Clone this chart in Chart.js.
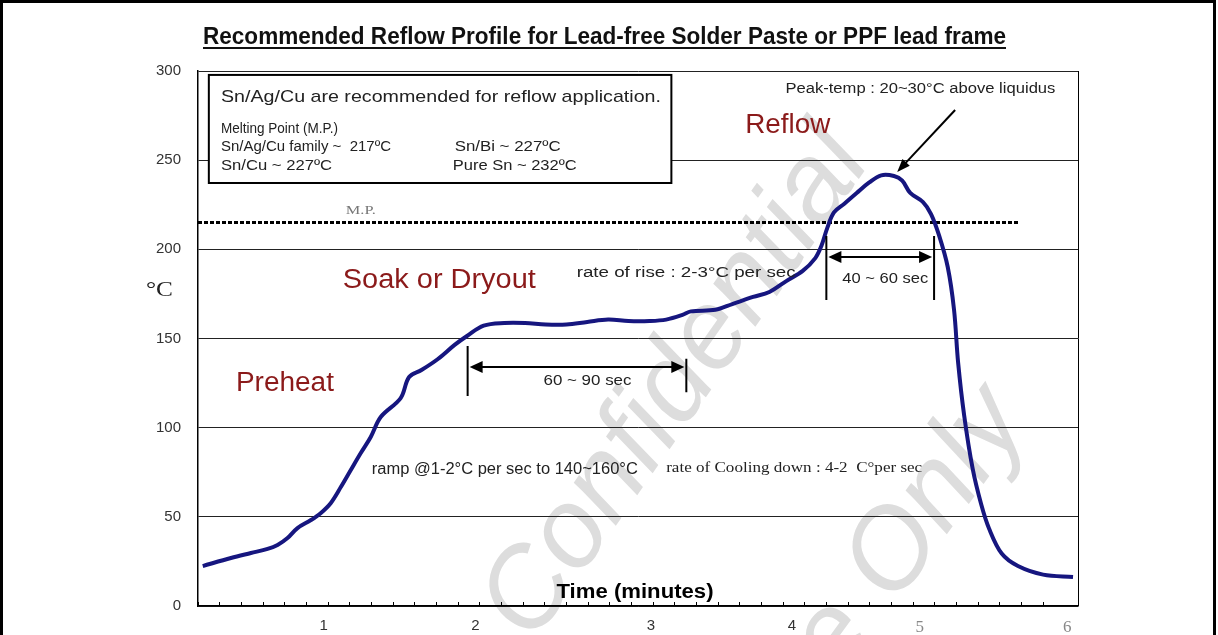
<!DOCTYPE html>
<html>
<head>
<meta charset="utf-8">
<script src="https://cdn.jsdelivr.net/npm/chart.js@4.4.0/dist/chart.umd.min.js"></script>
<style>
  html, body { margin: 0; padding: 0; background: #fff; }
  canvas { display: block; }
</style>
</head>
<body>
<canvas id="reflow" width="1218" height="635"></canvas>
<script>
// time axis is in minor-tick steps (the original axis labels are not evenly spaced)
const timeIdx = [0.22, 1.52, 2.44, 3.21, 3.67, 4.13, 4.59, 5.21, 5.67, 6.13, 6.59, 7.05, 7.51, 7.97, 8.43,
  9.35, 9.74, 10.31, 11.07, 11.84, 12.41, 13.18, 14.13, 15.09, 16.04, 17.0, 17.96, 18.92, 19.86, 20.83,
  21.6, 22.35, 22.74, 23.87, 24.65, 25.61, 26.36, 27.14, 27.9, 28.48, 28.76, 29.03, 29.34, 29.82, 30.39,
  30.97, 31.52, 32.11, 32.49, 32.86, 33.45, 33.82, 34.19, 34.59, 34.88, 35.07, 35.35, 35.74, 36.13,
  36.5, 37.08, 37.83, 38.99, 40.37];
const tempC = [22.4, 26.9, 29.7, 32.0, 34.2, 38.1, 43.7, 48.2, 52.2, 57.8, 66.7, 76.3, 85.8, 94.8, 106.0,
  116.6, 128.4, 132.3, 138.5, 146.4, 151.4, 157.2, 158.7, 158.7, 157.9, 157.9, 159.3, 160.6, 159.8, 159.8,
  160.6, 163.2, 165.2, 166.1, 169.3, 173.3, 176.1, 182.2, 187.9, 195.1, 201.9, 211.9, 220.7, 225.6, 231.6,
  237.5, 241.5, 241.1, 238.5, 231.6, 226.5, 219.8, 207.8, 190.1, 166.2, 136.4, 106.7, 77.0, 57.2,
  43.3, 29.4, 22.4, 17.6, 16.3];

const xTickPos = [5.8, 12.8, 20.9, 27.4, 33.3, 40.1];
const xTickLabels = ['1', '2', '3', '4', '5', '6'];
const xMax = 40.6;
const yTicks = [0, 50, 100, 150, 200, 250, 300];

const meltPoint = 215;
const meltSpan = [0, 37.9];

const SANS = '"Liberation Sans", Arial, sans-serif';
const SERIF = '"Liberation Serif", "Times New Roman", serif';

// notes placed in data units (x = minor tick steps, y = degrees C)
const notes = [
  { text: 'Peak-temp : 20~30\u00b0C above liquidus', x: 27.1, y: 289.9, font: '14px ' + SANS, color: '#222', w: 270 },
  { text: 'Reflow', x: 25.25, y: 269.2, font: '27px ' + SANS, color: '#8b1a1a', w: 85 },
  { text: 'Soak or Dryout', x: 6.68, y: 182.3, font: '27px ' + SANS, color: '#8b1a1a', w: 193 },
  { text: 'Preheat', x: 1.75, y: 124.5, font: '27px ' + SANS, color: '#8b1a1a', w: 98 },
  { text: 'rate of rise : 2-3\u00b0C per sec', x: 17.47, y: 186.8, font: '14px ' + SANS, color: '#222', w: 219 },
  { text: '40 ~ 60 sec', x: 29.72, y: 183.4, font: '15px ' + SANS, color: '#222', w: 86 },
  { text: '60 ~ 90 sec', x: 15.94, y: 126.2, font: '15px ' + SANS, color: '#222', w: 88 },
  { text: 'ramp @1-2\u00b0C per sec to 140~160\u00b0C', x: 8.02, y: 76.3, font: '16px ' + SANS, color: '#222', w: 266 },
  { text: 'rate of Cooling down : 4-2  C\u00b0per sec', x: 21.6, y: 77.4, font: '15px ' + SERIF, color: '#222', w: 256 },
  { text: 'M.P.', x: 6.82, y: 221.5, font: '12px ' + SERIF, color: '#777', w: 30 },
  { text: '\u00b0C', x: -2.4, y: 177.2, font: '22px ' + SERIF, color: '#222', w: 27 },
  { text: 'Time (minutes)', x: 16.54, y: 7.85, font: 'bold 20px ' + SANS, color: '#000', w: 157 }
];

const infoBox = { x1: 0.5, x2: 21.84, y1: 297.8, y2: 237.2 };
const infoLines = [
  { text: 'Sn/Ag/Cu are recommended for reflow application.', x: 1.06, y: 285.4, font: '17px ' + SANS, w: 440 },
  { text: 'Melting Point (M.P.)', x: 1.06, y: 267.5, font: '14px ' + SANS, w: 117 },
  { text: 'Sn/Ag/Cu family ~  217\u00baC', x: 1.06, y: 257.4, font: '14px ' + SANS, w: 170 },
  { text: 'Sn/Bi ~ 227\u00baC', x: 11.84, y: 257.4, font: '14px ' + SANS, w: 106 },
  { text: 'Sn/Cu ~ 227\u00baC', x: 1.06, y: 246.7, font: '14px ' + SANS, w: 111 },
  { text: 'Pure Sn ~ 232\u00baC', x: 11.75, y: 246.7, font: '14px ' + SANS, w: 124 }
];

const spans = [
  { x1: 12.44, x2: 22.53, y: 134.0, bar1: [145.8, 117.8], bar2: [138.6, 119.9] },
  { x1: 28.99, x2: 33.96, y: 195.7, bar1: [207.5, 171.6], bar2: [207.5, 171.6] }
];
const peakArrow = { from: [34.93, 278.1], to: [32.26, 243.4] };

function fitText(ctx, t, x, y, font, w, color) {
  ctx.save();
  ctx.font = font;
  ctx.fillStyle = color || '#222';
  ctx.textBaseline = 'middle';
  ctx.textAlign = 'left';
  const m = ctx.measureText(t).width;
  const s = w ? w / m : 1;
  ctx.translate(x, y);
  ctx.scale(s, 1);
  ctx.fillText(t, 0, 0);
  ctx.restore();
}

function arrowHead(ctx, x, y, ang, len, half) {
  ctx.save();
  ctx.translate(x, y);
  ctx.rotate(ang);
  ctx.beginPath();
  ctx.moveTo(0, 0);
  ctx.lineTo(-len, -half);
  ctx.lineTo(-len, half);
  ctx.closePath();
  ctx.fill();
  ctx.restore();
}

const decor = {
  id: 'decor',
  beforeDraw(chart) {
    const ctx = chart.ctx;
    ctx.save();
    ctx.fillStyle = '#fff';
    ctx.fillRect(0, 0, chart.width, chart.height);
    // watermark
    ctx.fillStyle = '#dddddd';
    ctx.font = 'italic 112px ' + SANS;
    ctx.textAlign = 'right';
    ctx.textBaseline = 'alphabetic';
    ctx.save();
    ctx.translate(872, 160);
    ctx.rotate(-55 * Math.PI / 180);
    ctx.fillText('Research Confidential', 0, 0);
    ctx.restore();
    ctx.save();
    ctx.translate(1030, 420);
    ctx.rotate(-54 * Math.PI / 180);
    ctx.fillText('For Reference Only', 0, 0);
    ctx.restore();
    ctx.restore();
  },
  afterDatasetsDraw(chart) {
    const ctx = chart.ctx;
    const X = v => chart.scales.x.getPixelForValue(v);
    const Y = v => chart.scales.y.getPixelForValue(v);
    const a = chart.chartArea;

    // plot frame (right side)
    ctx.save();
    ctx.strokeStyle = '#000';
    ctx.lineWidth = 1;
    ctx.beginPath();
    ctx.moveTo(a.right + 0.5, a.top);
    ctx.lineTo(a.right + 0.5, a.bottom);
    ctx.stroke();

    // info box
    const bx = X(infoBox.x1), by = Y(infoBox.y1);
    const bw = X(infoBox.x2) - bx, bh = Y(infoBox.y2) - by;
    ctx.fillStyle = '#fff';
    ctx.fillRect(bx, by, bw, bh);
    ctx.lineWidth = 2;
    ctx.strokeStyle = '#000';
    ctx.strokeRect(bx, by, bw, bh);
    infoLines.forEach(l => fitText(ctx, l.text, X(l.x), Y(l.y), l.font, l.w, '#222'));

    notes.forEach(n => fitText(ctx, n.text, X(n.x), Y(n.y), n.font, n.w, n.color));

    // dimension markers
    ctx.fillStyle = '#000';
    ctx.strokeStyle = '#000';
    spans.forEach(s => {
      ctx.lineWidth = 2;
      ctx.beginPath();
      ctx.moveTo(X(s.x1), Y(s.bar1[0]));
      ctx.lineTo(X(s.x1), Y(s.bar1[1]));
      ctx.moveTo(X(s.x2), Y(s.bar2[0]));
      ctx.lineTo(X(s.x2), Y(s.bar2[1]));
      ctx.stroke();
      const yy = Y(s.y);
      const l = X(s.x1) + 2, r = X(s.x2) - 2;
      ctx.lineWidth = 2;
      ctx.beginPath();
      ctx.moveTo(l + 8, yy);
      ctx.lineTo(r - 8, yy);
      ctx.stroke();
      arrowHead(ctx, l, yy, Math.PI, 13, 6);
      arrowHead(ctx, r, yy, 0, 13, 6);
    });

    // peak arrow
    const fx = X(peakArrow.from[0]), fy = Y(peakArrow.from[1]);
    const tx = X(peakArrow.to[0]), ty = Y(peakArrow.to[1]);
    const ang = Math.atan2(ty - fy, tx - fx);
    ctx.lineWidth = 2;
    ctx.beginPath();
    ctx.moveTo(fx, fy);
    ctx.lineTo(tx - 10 * Math.cos(ang), ty - 10 * Math.sin(ang));
    ctx.stroke();
    arrowHead(ctx, tx, ty, ang, 13, 5);
    ctx.restore();
  },
  afterDraw(chart) {
    const ctx = chart.ctx;
    ctx.save();
    // title, underlined
    const title = 'Recommended Reflow Profile for Lead-free Solder Paste or PPF lead frame';
    ctx.font = 'bold 24px "Liberation Sans Narrow", ' + SANS;
    ctx.fillStyle = '#111';
    ctx.textBaseline = 'alphabetic';
    const m = ctx.measureText(title).width;
    const tw = 803, tl = 203;
    ctx.save();
    ctx.translate(tl, 44);
    ctx.scale(tw / m, 1);
    ctx.fillText(title, 0, 0);
    ctx.restore();
    ctx.fillRect(tl, 47, tw, 2);
    // outer frame
    ctx.fillStyle = '#000';
    ctx.fillRect(0, 0, 3, chart.height);
    ctx.fillRect(0, 0, 1216, 3);
    ctx.fillRect(1213, 0, 3, chart.height);
    ctx.restore();
  }
};

const curve = timeIdx.map((x, i) => ({ x: x, y: tempC[i] }));
const mpLine = meltSpan.map(x => ({ x: x, y: meltPoint }));

new Chart(document.getElementById('reflow'), {
  type: 'line',
  data: {
    datasets: [{
      label: 'Reflow profile',
      data: curve,
      borderColor: '#16167f',
      borderWidth: 4,
      pointRadius: 0,
      tension: 0.35,
      fill: false
    }, {
      label: 'M.P.',
      data: mpLine,
      borderColor: '#000',
      borderWidth: 3,
      borderDash: [4, 2],
      pointRadius: 0,
      fill: false
    }]
  },
  options: {
    responsive: false,
    animation: false,
    devicePixelRatio: 1,
    layout: { padding: { left: 0, right: 140, top: 71, bottom: 0 } },
    plugins: {
      legend: { display: false },
      tooltip: { enabled: false },
      title: { display: false }
    },
    scales: {
      x: {
        type: 'linear',
        position: 'bottom',
        weight: 0,
        min: 0,
        max: xMax,
        ticks: { display: false, stepSize: 1 },
        afterBuildTicks: s => { s.ticks = s.ticks.filter(t => Number.isInteger(t.value)); },
        afterFit: s => { s.height = 0; },
        grid: { drawOnChartArea: false, drawTicks: true, tickLength: -4, color: '#000', lineWidth: 1 },
        border: { color: '#000', width: 1.5 }
      },
      xl: {
        type: 'linear',
        position: 'bottom',
        weight: 1,
        min: 0,
        max: xMax,
        afterBuildTicks: s => { s.ticks = xTickPos.map(v => ({ value: v })); },
        afterFit: s => { s.height = 29; },
        ticks: {
          autoSkip: false,
          maxRotation: 0,
          minRotation: 0,
          padding: 3,
          callback: (v, i) => xTickLabels[i],
          color: ctx => ctx.index >= 4 ? '#888' : '#333',
          font: ctx => ctx.index >= 4 ? { family: SERIF, size: 17 } : { family: SANS, size: 15 }
        },
        grid: { display: false },
        border: { display: false }
      },
      y: {
        min: 0,
        max: 300,
        afterBuildTicks: s => { s.ticks = yTicks.map(v => ({ value: v })); },
        afterFit: s => { s.width = 198; },
        ticks: { padding: 17, color: '#333', font: { family: SANS, size: 15 } },
        grid: { color: '#222', lineWidth: 1, drawTicks: false },
        border: { color: '#000', width: 1.5 }
      }
    }
  },
  plugins: [decor]
});
</script>
</body>
</html>
